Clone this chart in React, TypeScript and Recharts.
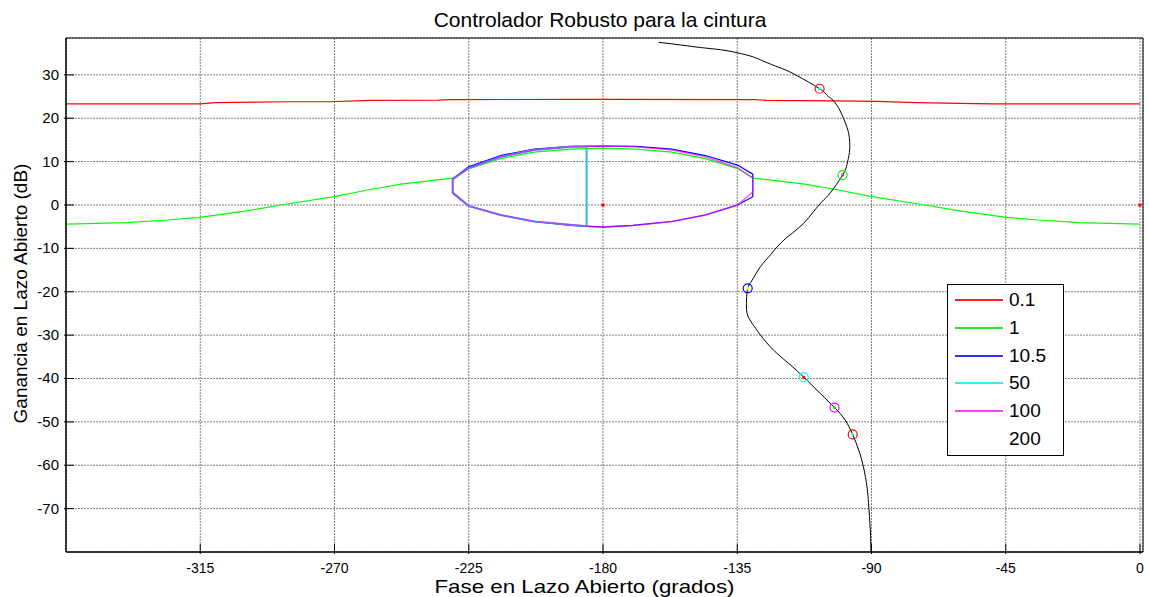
import {
  CartesianGrid,
  ComposedChart,
  Legend,
  Line,
  ReferenceArea,
  Scatter,
  XAxis,
  YAxis,
} from "recharts";

const FONT = "'Liberation Sans', Arial, sans-serif";

const phaseTicks = [-315, -270, -225, -180, -135, -90, -45, 0];
const gainTicks = [-70, -60, -50, -40, -30, -20, -10, 0, 10, 20, 30];

// lazo abierto L(jw) en Nichols [fase, ganancia dB]
const openLoop: [number, number][] = [
  [-161.3, 37.5], [-154.0, 36.9], [-147.3, 36.3], [-140.6, 35.8],
  [-135.0, 35.1], [-129.5, 34.1], [-125.0, 32.8], [-119.4, 31.3],
  [-114.9, 29.8], [-107.4, 26.8], [-104.9, 25.3], [-102.7, 24.0],
  [-100.5, 21.7], [-98.8, 19.0], [-97.7, 16.7], [-97.3, 14.4],
  [-97.4, 12.1], [-98.2, 9.4], [-99.7, 6.9], [-103.8, 2.8],
  [-106.0, 1.2], [-109.4, -1.5], [-112.7, -4.2], [-116.6, -6.5],
  [-120.5, -8.8], [-123.9, -11.5], [-127.2, -14.2], [-130.0, -17.3],
  [-131.5, -19.2], [-131.9, -21.9], [-131.7, -25.0], [-130.0, -27.3],
  [-127.2, -30.0], [-122.8, -33.5], [-117.8, -36.5], [-112.7, -39.7],
  [-107.1, -43.5], [-102.4, -46.7], [-98.8, -49.6], [-96.3, -52.9],
  [-94.3, -56.5], [-92.7, -60.4], [-91.5, -65.0], [-91.0, -68.8],
  [-90.4, -75.0], [-90.2, -80.0],
];

// frecuencias marcadas: [fase, ganancia]
const markPts: [number, number][] = [
  [-107.4, 26.8], [-99.7, 6.9], [-131.5, -19.2],
  [-112.7, -39.7], [-102.4, -46.7], [-96.3, -52.9],
];
const markEdge = ["#ff0000", "#00ff00", "#0000ff", "#00ffff", "#ff00ff", "#ff0000"];
const markCore = ["#00ffff", "#ff00ff", "#ffff00", "#ff0000", "#00ff00", "#00ffff"];

const criticalPts: [number, number][] = [[-180, 0], [0, 0]];

// contornos QFT
const bound01: [number, number][] = [
  [-360, 23.3], [-315, 23.3], [-310, 23.6], [-285, 23.8], [-272, 23.8],
  [-258, 24.1], [-235, 24.2], [-231, 24.3], [-180, 24.35], [-129, 24.3],
  [-125, 24.1], [-102, 24.0], [-88, 23.9], [-75, 23.6], [-50, 23.3], [0, 23.3],
];

const bound1: [number, number][] = [
  [-360, -4.4], [-339.8, -4.06], [-325.8, -3.46], [-315.2, -2.84],
  [-300, -1.4], [-287.9, 0], [-270.1, 1.92], [-258.9, 3.46], [-247.7, 4.8],
  [-230.4, 6.2], [-225.1, 8.3], [-214.3, 10.7], [-203.1, 12.2], [-191, 12.9],
  [-180, 13.1], [-169, 12.9], [-156.9, 12.2], [-145.7, 10.7], [-134.9, 8.4],
  [-129.6, 6.2], [-112.3, 4.8], [-101.1, 3.46], [-89.9, 1.92], [-72.1, 0],
  [-60, -1.4], [-44.8, -2.84], [-34.2, -3.46], [-20.2, -4.06], [0, -4.4],
];

const bound105: [number, number][] = [
  [-230.4, 2.7], [-230.4, 6.0], [-225.1, 8.8], [-214.3, 11.4], [-203.1, 12.9],
  [-191, 13.5], [-180, 13.6], [-169, 13.5], [-156.9, 12.9], [-145.7, 11.4],
  [-134.9, 9.2], [-129.8, 7.1], [-129.8, 1.9], [-134.9, 0.0], [-145.7, -2.3],
  [-156.9, -3.8], [-170, -4.7], [-180, -5.1], [-191, -4.7], [-203.1, -3.8],
  [-214.3, -2.3], [-225.1, -0.2], [-230.4, 2.7],
];

const bound50: [number, number][] = [
  [-185.5, -4.9], [-185.5, 13.5], [-191, 13.4], [-203.1, 12.7], [-214.3, 11.1],
  [-225.1, 8.5], [-230.4, 5.9], [-230.4, 2.9], [-225.1, -0.2], [-214.3, -2.3],
  [-203.1, -3.8], [-185.5, -4.9],
];

const bound100: [number, number][] = [
  [-230.4, 2.9], [-230.4, 5.9], [-225.1, 8.5], [-214.3, 11.1], [-203.1, 12.7],
  [-191, 13.4], [-180, 13.6], [-169, 13.4], [-156.9, 12.7], [-145.7, 11.1],
  [-134.9, 8.6], [-129.8, 6.2], [-129.8, 3.0], [-134.9, 0.0], [-145.7, -2.3],
  [-156.9, -3.8], [-170, -4.7], [-180, -5.1], [-185.2, -4.9], [-203.1, -3.8],
  [-214.3, -2.3], [-225.1, -0.2], [-230.4, 2.9],
];

const legendLabels = ["0.1", "1", "10.5", "50", "100", "200"];
const legendColors = ["#ff2020", "#20e820", "#3030ff", "#30f0f0", "#ff40ff", "none"];

const pts = (a: [number, number][]) => a.map(([x, y]) => ({ x, y }));

const markers = markPts.map(([x, y], i) => ({ x, y, edge: markEdge[i], core: markCore[i] }));

const TICK = 10;

const BottomTick = ({ x, y, payload }: any) => (
  <g>
    <line x1={x} x2={x} y1={y} y2={y - TICK} stroke="#000" />
    <text x={x} y={y + 19} textAnchor="middle" fontSize={14} fontFamily={FONT} fill="#000">
      {payload.value}
    </text>
  </g>
);

const TopTick = ({ x, y }: any) => <line x1={x} x2={x} y1={y} y2={y + TICK} stroke="#000" />;

const LeftTick = ({ x, y, payload }: any) => (
  <g>
    <line x1={x} x2={x + TICK} y1={y} y2={y} stroke="#000" />
    <text x={x - 5} y={y + 5} textAnchor="end" fontSize={15} fontFamily={FONT} fill="#000">
      {payload.value}
    </text>
  </g>
);

const RightTick = ({ x, y }: any) => <line x1={x} x2={x - TICK} y1={y} y2={y} stroke="#000" />;

const MarkerShape = ({ cx, cy, payload }: any) => (
  <g>
    <circle cx={cx} cy={cy} r={4.5} fill="none" stroke={payload.edge} strokeWidth={1.2} />
    <circle cx={cx} cy={cy} r={1.5} fill={payload.core} />
  </g>
);

const DotShape = ({ cx, cy }: any) => <rect x={cx - 1.5} y={cy - 1.5} width={3} height={3} fill="#ff0000" />;

const LegendBox = () => (
  <div
    style={{
      width: 117,
      height: 172,
      boxSizing: "border-box",
      border: "1.5px solid #000",
      background: "#fff",
      paddingTop: 1.5,
      fontFamily: FONT,
      fontSize: 19,
    }}
  >
    {legendLabels.map((lab, i) => (
      <div key={lab} style={{ height: 27.7, display: "flex", alignItems: "center" }}>
        <div
          style={{
            marginLeft: 7,
            width: 48,
            height: 2,
            background: legendColors[i] === "none" ? "transparent" : legendColors[i],
          }}
        />
        <span style={{ marginLeft: 6, color: "#000" }}>{lab}</span>
      </div>
    ))}
  </div>
);

export default function App() {
  return (
    <div style={{ position: "absolute", left: 0, top: 0, width: 1149, height: 597, background: "#fff" }}>
      <div
        style={{
          position: "absolute",
          left: 0,
          top: 9,
          width: 1200,
          textAlign: "center",
          fontFamily: FONT,
          fontSize: 21,
          lineHeight: "22px",
          color: "#000",
        }}
      >
        Controlador Robusto para la cintura
      </div>
      <ComposedChart width={1149} height={597} margin={{ top: 38, right: 6, bottom: 0, left: 0 }}>
        <CartesianGrid stroke="#808080" strokeDasharray="2 1" />
        <XAxis
          type="number"
          dataKey="x"
          domain={[-360, 1]}
          ticks={phaseTicks}
          allowDataOverflow
          height={45}
          tickSize={0}
          tickLine={false}
          axisLine={{ stroke: "#000" }}
          tick={<BottomTick />}
          label={{
            content: ({ viewBox }: any) => (
              <text
                x={viewBox.x + viewBox.width / 2 - 20}
                y={viewBox.y + 41}
                textAnchor="middle"
                fontSize={19}
                textLength={300}
                lengthAdjust="spacingAndGlyphs"
                fontFamily={FONT}
                fill="#000"
              >
                Fase en Lazo Abierto (grados)
              </text>
            ),
          }}
        />
        <XAxis
          xAxisId="top"
          orientation="top"
          type="number"
          dataKey="x"
          domain={[-360, 1]}
          ticks={phaseTicks}
          allowDataOverflow
          height={0}
          tickSize={0}
          tickLine={false}
          axisLine={{ stroke: "#000" }}
          tick={<TopTick />}
        />
        <YAxis
          type="number"
          dataKey="y"
          domain={[-80, 38.5]}
          ticks={gainTicks}
          allowDataOverflow
          width={66}
          tickSize={0}
          tickLine={false}
          axisLine={{ stroke: "#000" }}
          tick={<LeftTick />}
          label={{
            content: ({ viewBox }: any) => {
              const cx = viewBox.x + 27;
              const cy = viewBox.y + viewBox.height / 2 - 1.5;
              return (
                <text
                  x={cx}
                  y={cy}
                  transform={`rotate(-90, ${cx}, ${cy})`}
                  textAnchor="middle"
                  fontSize={19}
                  fontFamily={FONT}
                  fill="#000"
                >
                  Ganancia en Lazo Abierto (dB)
                </text>
              );
            },
          }}
        />
        <YAxis
          yAxisId="right"
          orientation="right"
          type="number"
          dataKey="y"
          domain={[-80, 38.5]}
          ticks={gainTicks}
          allowDataOverflow
          width={0}
          tickSize={0}
          tickLine={false}
          axisLine={{ stroke: "#000" }}
          tick={<RightTick />}
        />
        <Line data={pts(bound01)} dataKey="y" stroke="#ff0000" strokeWidth={1.2} dot={false} activeDot={false} isAnimationActive={false} />
        <Line data={pts(bound1)} dataKey="y" stroke="#00ff00" strokeWidth={1.2} dot={false} activeDot={false} isAnimationActive={false} />
        <Line data={pts(bound105)} dataKey="y" stroke="#0000ff" strokeWidth={1.2} dot={false} activeDot={false} isAnimationActive={false} />
        <Line data={pts(bound50)} dataKey="y" stroke="#22b8f4" strokeWidth={2} dot={false} activeDot={false} isAnimationActive={false} />
        <Line data={pts(bound100)} dataKey="y" stroke="#ff00ff" strokeOpacity={0.65} strokeWidth={1.5} dot={false} activeDot={false} isAnimationActive={false} />
        <Line data={pts(openLoop)} dataKey="y" type="natural" stroke="#000" strokeWidth={1} dot={false} activeDot={false} isAnimationActive={false} />
        <Scatter data={markers} shape={<MarkerShape />} isAnimationActive={false} />
        <Scatter data={pts(criticalPts)} shape={<DotShape />} isAnimationActive={false} />
        <ReferenceArea x1={-360} x2={1} y1={-80} y2={38.5} fill="none" stroke="#000" ifOverflow="visible" />
        <Legend
          layout="vertical"
          align="center"
          verticalAlign="middle"
          wrapperStyle={{ left: 947, top: 284, width: 117, height: 172 }}
          content={() => <LegendBox />}
        />
      </ComposedChart>
    </div>
  );
}
